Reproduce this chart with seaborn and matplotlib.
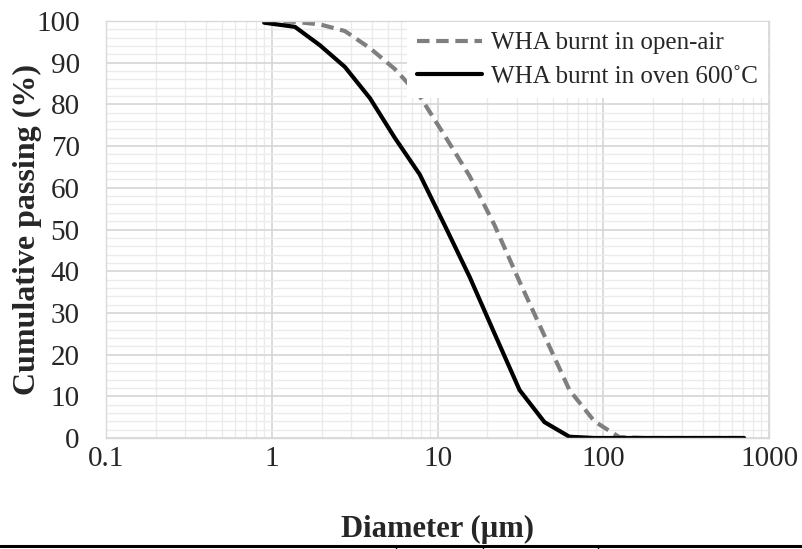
import numpy as np
import pandas as pd
import seaborn as sns
import matplotlib.pyplot as plt
from matplotlib.lines import Line2D
from matplotlib.ticker import LogLocator, MultipleLocator, FixedLocator

# particle sizes (um) and cumulative passing (%)
diameter = [0.9, 1.38, 1.95, 2.76, 3.91, 5.52, 7.81, 11.05, 15.63, 22.1,
            31.25, 44.19, 62.5, 88.39, 125, 176.8, 250, 353.6, 500, 707.1]
open_air = [100, 99.8, 99.2, 97.6, 93.5, 88.5, 82, 72.5, 62.8, 51,
            37.5, 24.5, 11.5, 4, 0.2, 0, 0, 0, 0, 0]
oven_600 = [99.6, 98.6, 94.2, 89, 81.5, 72, 63.2, 51, 38.6, 25,
            11.5, 3.8, 0.3, 0, 0, 0, 0, 0, 0, 0]

x_ticks = [0.1, 1, 10, 100, 1000]
x_ticklabels = ['0.1', '1', '10', '100', '1000']

df = pd.DataFrame({'d': diameter, 'open': open_air, 'oven': oven_600})

sns.set_theme(style='white')
plt.rcParams['font.family'] = ['Liberation Serif', 'DejaVu Serif']

fig = plt.figure(figsize=(8.02, 5.49), dpi=100)
ax = fig.add_axes([0.1322, 0.2022, 0.8267, 0.7595])

sns.lineplot(data=df, x='d', y='open', ax=ax, color='#7f7f7f', linewidth=3,
             linestyle=(0, (3, 1.6)), label='WHA burnt in open-air')
sns.lineplot(data=df, x='d', y='oven', ax=ax, color='black', linewidth=3,
             label='WHA burnt in oven 600˚C')

ax.set_xscale('log')
ax.set_xlim(0.1, 1000)
ax.set_ylim(0, 100)
ax.xaxis.set_major_locator(FixedLocator(x_ticks))
ax.set_xticklabels(x_ticklabels)
ax.xaxis.set_minor_locator(LogLocator(base=10, subs=np.arange(2, 10)))
ax.yaxis.set_major_locator(MultipleLocator(10))
ax.yaxis.set_minor_locator(MultipleLocator(2))

ax.grid(which='major', color='#d6d6d6', linewidth=1.2)
ax.grid(which='minor', color='#ebebeb', linewidth=1.0)
ax.set_axisbelow(True)
for s in ax.spines.values():
    s.set_color('#d9d9d9')
    s.set_linewidth(1.0)

ax.tick_params(axis='both', which='both', length=0, labelsize=21)
ax.tick_params(axis='y', pad=19)
ax.tick_params(axis='x', pad=6)

ax.set_xlabel('Diameter (µm)', fontsize=22, fontweight='bold', labelpad=31)
ax.set_ylabel('Cumulative passing (%)', fontsize=23, fontweight='bold')
ax.yaxis.set_label_coords(-0.097, 0.5)

leg = ax.legend(loc='upper right', bbox_to_anchor=(0.9985, 0.998), borderaxespad=0,
                fontsize=18, frameon=True, fancybox=False, framealpha=1,
                handlelength=2.6, handletextpad=0.38, labelspacing=0.45,
                borderpad=0.4)
leg.get_frame().set_edgecolor('white')
leg.get_frame().set_linewidth(0)

# border of the cropped table below the chart
fig.add_artist(Line2D([0, 1], [0.0055, 0.0055], color='black', linewidth=2.2))
for xp in [396, 483, 598]:
    fig.add_artist(Line2D([xp / 802, xp / 802], [0, 0.0055], color='black', linewidth=1))

fig.savefig('out.png', dpi=100)
